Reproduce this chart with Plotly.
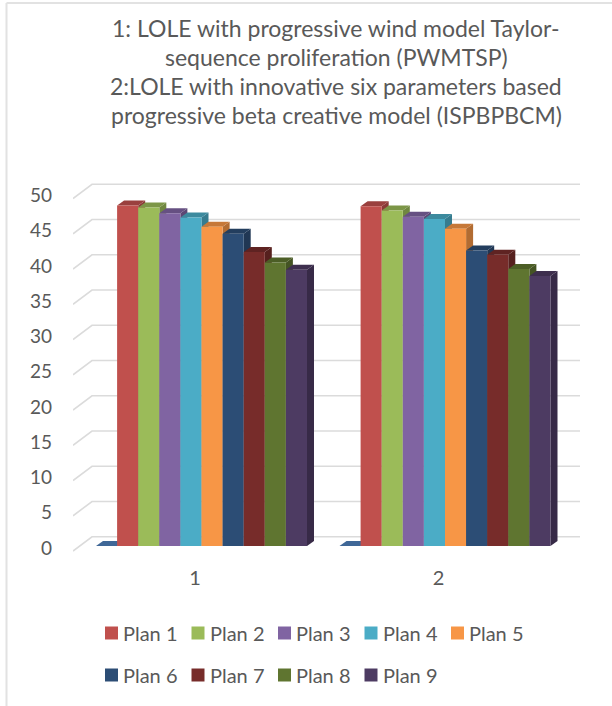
import plotly.graph_objects as go

# Chart data
categories = [1, 2]
plan_names = ["Plan 1", "Plan 2", "Plan 3", "Plan 4", "Plan 5", "Plan 6", "Plan 7", "Plan 8", "Plan 9"]
case_1 = [48.3, 48.0, 47.2, 46.6, 45.3, 44.3, 41.7, 40.2, 39.2]
case_2 = [48.2, 47.6, 46.7, 46.4, 45.0, 41.9, 41.3, 39.3, 38.3]
# An unnamed empty series sits in front of Plan 1 in each cluster.
baseline_series = [0, 0]
y_ticks = list(range(0, 51, 5))
title_lines = [
    "1: LOLE with progressive wind model Taylor-",
    "sequence proliferation (PWMTSP)",
    "2:LOLE with innovative six parameters based",
    "progressive beta creative model (ISPBPBCM)",
]
baseline_color = "#4F81BD"
plan_colors = ["#C0504D", "#9BBB59", "#8064A2", "#4BACC6", "#F79646",
               "#2C4D75", "#772C2A", "#5F7530", "#4D3B62"]

# Layout geometry
WIDTH, HEIGHT = 612, 706
LEFT, RIGHT, TOP, BOTTOM = 73, 580, 180, 552
PX_PER_UNIT_Y = 7.05
PX_PER_UNIT_X = 243.5
ZERO_PX = 546
X_RANGE = [1 - (195 - LEFT) / PX_PER_UNIT_X, 2 + (RIGHT - 438.5) / PX_PER_UNIT_X]
Y_RANGE = [(ZERO_PX - BOTTOM) / PX_PER_UNIT_Y, (ZERO_PX - TOP) / PX_PER_UNIT_Y]

BAR_W = 21.1 / PX_PER_UNIT_X
BAR_SHIFT = 6.5 / PX_PER_UNIT_X
DEPTH_X = 7 / PX_PER_UNIT_X
DEPTH_Y = 5 / PX_PER_UNIT_Y
WALL_DX = 19 / PX_PER_UNIT_X
WALL_FRONT_DY = -5 / PX_PER_UNIT_Y
WALL_BACK_DY = 9.2 / PX_PER_UNIT_Y
# Tick labels sit a touch below their nominal height
TICK_LABEL_DROP = 2 / PX_PER_UNIT_Y
FONT = "Lato, Carlito, Calibri, sans-serif"
TEXT = "#595959"
GRID = "#DBDBDB"
BORDER = "#E2E2E2"


def shade(hex_color, factor):
    r, g, b = (int(hex_color[i:i + 2], 16) for i in (1, 3, 5))
    return f"rgb({round(r * factor)},{round(g * factor)},{round(b * factor)})"


def paper_x(px):
    return (px - LEFT) / (RIGHT - LEFT)


def paper_y(px):
    return (BOTTOM - px) / (BOTTOM - TOP)


fig = go.Figure()

# Wall and floor gridlines
x_min, x_max = X_RANGE[0], X_RANGE[1]
for t in y_ticks:
    fig.add_trace(go.Scatter(
        x=[x_min, x_min + WALL_DX, x_max],
        y=[t + WALL_FRONT_DY, t + WALL_BACK_DY, t + WALL_BACK_DY],
        mode="lines", line=dict(color=GRID, width=1.6),
        showlegend=False, hoverinfo="skip", cliponaxis=False,
    ))

series = [("", baseline_color, baseline_series)] + [
    (name, color, [case_1[i], case_2[i]])
    for i, (name, color) in enumerate(zip(plan_names, plan_colors))
]


def bar_offset(index):
    return BAR_SHIFT + (index - len(series) / 2) * BAR_W


# Side and top faces sit on the base axes, under the front faces
for i, (name, color, values) in enumerate(series):
    for cat, v in zip(categories, values):
        x0 = cat + bar_offset(i)
        x1 = x0 + BAR_W
        fig.add_trace(go.Scatter(
            x=[x1, x1 + DEPTH_X, x1 + DEPTH_X, x1, x1],
            y=[0, DEPTH_Y, v + DEPTH_Y, v, 0],
            mode="lines", fill="toself", fillcolor=shade(color, 0.72),
            line=dict(width=0), showlegend=False, hoverinfo="skip",
        ))
        fig.add_trace(go.Scatter(
            x=[x0, x0 + DEPTH_X, x1 + DEPTH_X, x1, x0],
            y=[v, v + DEPTH_Y, v + DEPTH_Y, v, v],
            mode="lines", fill="toself", fillcolor=shade(color, 0.8),
            line=dict(width=0), showlegend=False, hoverinfo="skip",
        ))

# Front faces on an overlaying pair of axes with the same ranges
for i, (name, color, values) in enumerate(series):
    fig.add_trace(go.Bar(
        x=categories, y=values, name=name or "Series",
        width=BAR_W, offset=bar_offset(i),
        marker=dict(color=color, line=dict(width=0)),
        xaxis="x2", yaxis="y2", showlegend=False,
    ))

# Key below the plot: five entries on the first row, four on the second
shapes = [
    dict(type="line", xref="paper", yref="paper",
         x0=paper_x(6.5), x1=paper_x(6.5), y0=paper_y(HEIGHT), y1=paper_y(3),
         line=dict(color=BORDER, width=2)),
    dict(type="line", xref="paper", yref="paper",
         x0=paper_x(6.5), x1=paper_x(WIDTH), y0=paper_y(3), y1=paper_y(3),
         line=dict(color=BORDER, width=2)),
]
annotations = []
for i, (name, color) in enumerate(zip(plan_names, plan_colors)):
    col, row = i % 5, i // 5
    sx = 105 + col * 86.5
    sy = 633 + row * 42
    shapes.append(dict(type="rect", xref="paper", yref="paper",
                       x0=paper_x(sx), x1=paper_x(sx + 13),
                       y0=paper_y(sy + 6.5), y1=paper_y(sy - 6.5),
                       fillcolor=color, line=dict(width=0)))
    annotations.append(dict(text=name, xref="paper", yref="paper", showarrow=False,
                            x=paper_x(sx + 16), y=paper_y(sy), xanchor="left", yanchor="middle",
                            font=dict(family=FONT, size=20, color=TEXT)))

# Four centred title lines at a fixed line pitch
for line, y_px in zip(title_lines, [28, 57, 86, 115]):
    annotations.append(dict(text=line, xref="paper", yref="paper", showarrow=False,
                            x=paper_x(336), y=paper_y(y_px), xanchor="center", yanchor="middle",
                            font=dict(family=FONT, size=23, color=TEXT)))

fig.update_layout(
    width=WIDTH, height=HEIGHT, autosize=False,
    margin=dict(l=LEFT, r=WIDTH - RIGHT, t=TOP, b=HEIGHT - BOTTOM, pad=0),
    paper_bgcolor="white", plot_bgcolor="white",
    barmode="overlay", showlegend=False,
    font=dict(family=FONT, color=TEXT),
    xaxis=dict(range=X_RANGE, tickmode="array", tickvals=categories, ticktext=[str(c) for c in categories],
               showgrid=False, zeroline=False, showline=False, ticks="",
               ticklabelstandoff=12, tickfont=dict(family=FONT, size=20, color=TEXT)),
    yaxis=dict(range=Y_RANGE, tickmode="array", tickvals=[t - TICK_LABEL_DROP for t in y_ticks],
               ticktext=[str(t) for t in y_ticks],
               showgrid=False, zeroline=False, showline=False, ticks="",
               ticklabelstandoff=20, tickfont=dict(family=FONT, size=19, color=TEXT)),
    xaxis2=dict(range=X_RANGE, overlaying="x", visible=False, anchor="y2"),
    yaxis2=dict(range=Y_RANGE, overlaying="y", visible=False, anchor="x2"),
    shapes=shapes,
    annotations=annotations,
)

fig.write_html("out.html")
